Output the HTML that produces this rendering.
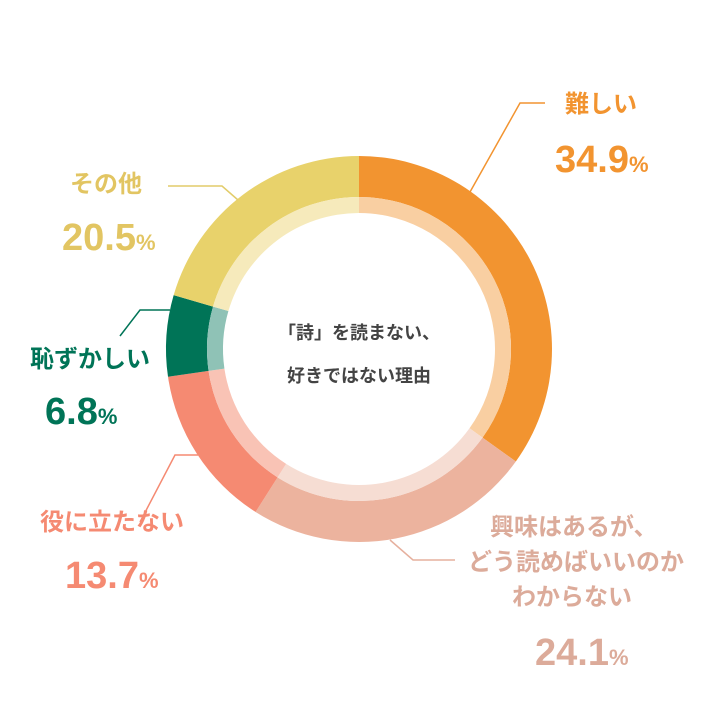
<!DOCTYPE html>
<html><head><meta charset="utf-8"><style>
body{margin:0;width:720px;height:720px;background:#fff;overflow:hidden;font-family:"Liberation Sans","Noto Sans CJK JP",sans-serif}
</style></head><body>
<svg width="720" height="720" xmlns="http://www.w3.org/2000/svg" font-family="Liberation Sans, Noto Sans CJK JP, sans-serif">
<g>
<path d="M359,156 A193,193 0 0 1 515.83,461.48 L482.52,437.59 A152,152 0 0 0 359,197 Z" fill="#f29430"/>
<path d="M359,197 A152,152 0 0 1 482.52,437.59 L469.51,428.26 A136,136 0 0 0 359,213 Z" fill="#f9cfa2"/>
<path d="M515.83,461.48 A193,193 0 0 1 255.59,511.95 L277.56,477.33 A152,152 0 0 0 482.52,437.59 Z" fill="#ecb39e"/>
<path d="M482.52,437.59 A152,152 0 0 1 277.56,477.33 L286.13,463.82 A136,136 0 0 0 469.51,428.26 Z" fill="#f6ddd3"/>
<path d="M255.59,511.95 A193,193 0 0 1 168,376.79 L208.58,370.89 A152,152 0 0 0 277.56,477.33 Z" fill="#f58a72"/>
<path d="M277.56,477.33 A152,152 0 0 1 208.58,370.89 L224.41,368.58 A136,136 0 0 0 286.13,463.82 Z" fill="#f9c3b5"/>
<path d="M168,376.79 A193,193 0 0 1 173.66,295.15 L213.03,306.59 A152,152 0 0 0 208.58,370.89 Z" fill="#007457"/>
<path d="M208.58,370.89 A152,152 0 0 1 213.03,306.59 L228.40,311.06 A136,136 0 0 0 224.41,368.58 Z" fill="#8fc2b6"/>
<path d="M173.66,295.15 A193,193 0 0 1 359,156 L359,197 A152,152 0 0 0 213.03,306.59 Z" fill="#e8d26b"/>
<path d="M213.03,306.59 A152,152 0 0 1 359,197 L359,213 A136,136 0 0 0 228.40,311.06 Z" fill="#f6eabb"/>
</g>
<g fill="none" stroke-width="1.5">
<polyline points="470,192 520,103 545,103" stroke="#f29430"/>
<polyline points="168,186 222,186 238,200" stroke="#e2cc6a"/>
<polyline points="120,336 140,310 170,310" stroke="#007457"/>
<polyline points="140,522 175,455 198,455" stroke="#f58a72"/>
<polyline points="390,540 413,560 455,560" stroke="#e6b09e"/>
</g>
<g font-weight="bold">
<text x="565" y="112" font-size="24" fill="#f29430">難しい</text>
<text x="555" y="172" font-size="38" fill="#f29430">34.9<tspan font-size="22">%</tspan></text>
<text x="70" y="192" font-size="24" fill="#e2c562">その他</text>
<text x="62" y="250" font-size="38" fill="#e2c562">20.5<tspan font-size="22">%</tspan></text>
<text x="30" y="367" font-size="24" fill="#007457">恥ずかしい</text>
<text x="45" y="424" font-size="38" fill="#007457">6.8<tspan font-size="22">%</tspan></text>
<text x="40" y="530" font-size="24" fill="#f58a72">役に立たない</text>
<text x="65" y="588" font-size="38" fill="#f58a72">13.7<tspan font-size="22">%</tspan></text>
<text x="490" y="535" font-size="24" fill="#dcab9a">興味はあるが、</text>
<text x="468" y="570" font-size="24" fill="#dcab9a">どう読めばいいのか</text>
<text x="512" y="605" font-size="24" fill="#dcab9a">わからない</text>
<text x="535" y="665" font-size="38" fill="#dcab9a">24.1<tspan font-size="22">%</tspan></text>
<text x="359" y="339" font-size="18" fill="#444" text-anchor="middle">「詩」を読まない、</text>
<text x="359" y="382" font-size="18" fill="#444" text-anchor="middle">好きではない理由</text>
</g>
</svg>
</body></html>
